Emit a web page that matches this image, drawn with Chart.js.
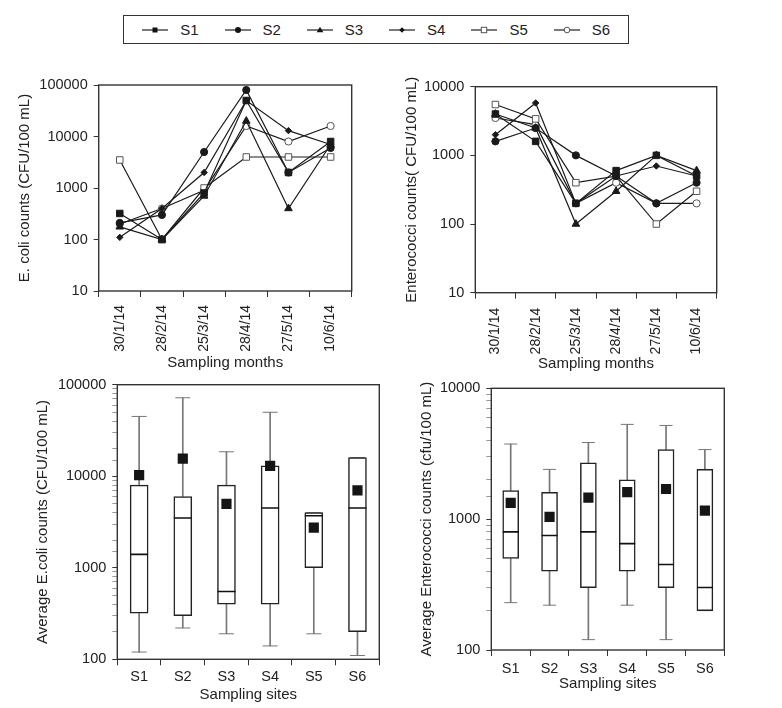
<!DOCTYPE html>
<html><head><meta charset="utf-8">
<script src="https://cdn.jsdelivr.net/npm/chart.js@4"></script>
<style>
body{margin:0;background:#fff;width:782px;height:708px;position:relative;overflow:hidden;font-family:"Liberation Sans",Arial,sans-serif;}
canvas{position:absolute;}
#legend{position:absolute;left:123px;top:15px;width:506px;height:29px;border:1.5px solid #333;box-sizing:border-box;}
.li{position:absolute;top:0;height:100%;display:flex;align-items:center;font-size:15px;color:#222;}
.li svg{margin-right:12px;}
</style></head><body>
<div id="legend"></div>
<canvas id="c1" width="390" height="320" style="left:0;top:60px"></canvas>
<canvas id="c2" width="392" height="320" style="left:390px;top:60px"></canvas>
<canvas id="c3" width="390" height="338" style="left:0;top:370px"></canvas>
<canvas id="c4" width="392" height="338" style="left:390px;top:370px"></canvas>
<script>
// ---------- data ----------
const months = ['30/1/14','28/2/14','25/3/14','28/4/14','27/5/14','10/6/14'];
const sites = ['S1','S2','S3','S4','S5','S6'];

// E. coli counts per site per month
const ecoliS1 = [320, 100, 800, 50000, 2000, 8000];
const ecoliS2 = [210, 300, 5000, 80000, 2000, 6000];
const ecoliS3 = [176, 100, 700, 20000, 400, 7000];
const ecoliS4 = [110, 400, 2000, 50000, 13000, 7000];
const ecoliS5 = [3500, 100, 1000, 4000, 4000, 4000];
const ecoliS6 = [200, 400, 900, 16000, 8000, 16000];

// Enterococci counts per site per month
const enteroS1 = [4000, 1600, 200, 600, 1000, 500];
const enteroS2 = [1600, 2500, 1000, 500, 200, 400];
const enteroS3 = [4000, 2500, 100, 300, 1000, 600];
const enteroS4 = [2000, 5800, 200, 500, 700, 500];
const enteroS5 = [5500, 3400, 400, 500, 100, 300];
const enteroS6 = [3500, 2800, 200, 400, 200, 200];

// Box plot summaries, E. coli
const ecoliMin    = [120, 220, 190, 140, 190, 110];
const ecoliQ1     = [320, 300, 400, 400, 1000, 200];
const ecoliMedian = [1400, 3500, 550, 4500, 3700, 4500];
const ecoliQ3     = [8000, 6000, 8000, 13000, 4000, 16000];
const ecoliMax    = [45000, 72000, 18500, 50000, 4000, 16000];
const ecoliMean   = [10300, 15600, 5000, 13000, 2750, 7000];

// Box plot summaries, Enterococci
const enteroMin    = [230, 220, 120, 220, 120, 200];
const enteroQ1     = [500, 400, 300, 400, 300, 200];
const enteroMedian = [800, 750, 800, 650, 450, 300];
const enteroQ3     = [1650, 1600, 2700, 2000, 3400, 2400];
const enteroMax    = [3750, 2400, 3850, 5300, 5200, 3400];
const enteroMean   = [1330, 1040, 1460, 1610, 1700, 1160];

const ecoliTicks = [10, 100, 1000, 10000, 100000];
const enteroTicks = [10, 100, 1000, 10000];

// ---------- styling ----------
Chart.defaults.font.family = '"Liberation Sans", Arial, sans-serif';
Chart.defaults.color = '#222';
const INK = '#1a1a1a';
const markerStyles = {
  S1:{pointStyle:'rect', pointRadius:4.6, pointBackgroundColor:INK, pointBorderColor:INK},
  S2:{pointStyle:'circle', pointRadius:3.6, pointBackgroundColor:INK, pointBorderColor:INK},
  S3:{pointStyle:'triangle', pointRadius:4.4, pointBackgroundColor:INK, pointBorderColor:INK},
  S4:{pointStyle:'rectRot', pointRadius:3.2, pointBackgroundColor:INK, pointBorderColor:INK},
  S5:{pointStyle:'rect', pointRadius:4.6, pointBackgroundColor:'#fff', pointBorderColor:'#555'},
  S6:{pointStyle:'circle', pointRadius:3.6, pointBackgroundColor:'#fff', pointBorderColor:'#555'}
};

// legend (HTML, real text)
const legendIcons = {
  S1:'<rect x="10.5" y="2.5" width="5" height="5" fill="#111"/>',
  S2:'<circle cx="13" cy="5" r="3" fill="#111"/>',
  S3:'<polygon points="13,1.8 16.3,7.2 9.7,7.2" fill="#111"/>',
  S4:'<polygon points="13,2.3 15.7,5 13,7.7 10.3,5" fill="#111"/>',
  S5:'<rect x="10.3" y="2.3" width="5.4" height="5.4" fill="#fff" stroke="#555" stroke-width="1"/>',
  S6:'<circle cx="13" cy="5" r="2.8" fill="#fff" stroke="#555" stroke-width="1"/>'
};
const legendEl = document.getElementById('legend');
sites.forEach((s,i)=>{
  const d = document.createElement('div');
  d.className = 'li';
  d.style.left = (18.2 + 82.3*i) + 'px';
  d.innerHTML = '<svg width="26" height="10"><line x1="0" y1="5" x2="26" y2="5" stroke="#222" stroke-width="1.2"/>' + legendIcons[s] + '</svg><span>' + s + '</span>';
  legendEl.appendChild(d);
});

const isPow10 = v => v > 0 && Math.abs(Math.log10(v) - Math.round(Math.log10(v))) < 1e-9;

const framePlugin = {
  id:'frame',
  afterDraw(chart){
    const {ctx, chartArea:a} = chart;
    ctx.save();
    ctx.strokeStyle = '#333';
    ctx.lineWidth = 1.4;
    ctx.strokeRect(a.left, a.top, a.right - a.left, a.bottom - a.top);
    ctx.restore();
  }
};

function yScale(g, min, max, title, tickList, showMinor){
  return {
    type:'logarithmic', min, max,
    afterFit(s){ s.width = g.yW; },
    afterBuildTicks(s){
      if (!showMinor) s.ticks = tickList.map(v => ({value:v}));
    },
    ticks:{ autoSkip:false, padding:6, font:{size:14.5}, color:'#222',
      callback:(v)=> isPow10(v) ? String(Math.round(v)) : '' },
    grid:{ drawOnChartArea:false, drawTicks:true, tickLength:5, tickWidth:1,
      tickColor:(c)=> (c.tick && isPow10(c.tick.value)) ? '#333' : '#999' },
    border:{display:false},
    title:{display:true, text:title, font:{size:15}, color:'#222', padding:{top:g.yTitlePad, bottom:0}}
  };
}
function xScale(g, labels, title, rotated){
  return {
    type:'category', labels, offset:true,
    afterFit(s){ s.height = g.xH; },
    ticks:{ autoSkip:false, padding:g.xTickPad, font:{size: rotated ? 14 : 14.5}, color:'#222',
      maxRotation: rotated ? 90 : 0, minRotation: rotated ? 90 : 0 },
    grid:{ offset:true, drawOnChartArea:false, drawTicks:true, tickLength:6, tickColor:'#333', tickWidth:1 },
    border:{display:false},
    title:{display:true, text:title, font:{size:15}, color:'#222', padding:{top:0, bottom:g.xTitlePad}}
  };
}

function lineChart(id, g, seriesList, min, max, tickList, yTitle){
  const datasets = sites.map((s,i)=>Object.assign({
    label:s, data:seriesList[i], borderColor:INK, borderWidth:1.2, pointBorderWidth:1,
    fill:false, tension:0
  }, markerStyles[s]));
  return new Chart(document.getElementById(id), {
    type:'line',
    data:{labels:months, datasets},
    options:{
      responsive:false, animation:false, events:[],
      layout:{padding:g.pad},
      plugins:{legend:{display:false}, tooltip:{enabled:false}},
      scales:{ x:xScale(g, months, 'Sampling months', true), y:yScale(g, min, max, yTitle, tickList, false) }
    },
    plugins:[framePlugin]
  });
}

function boxChart(id, g, s, min, max, tickList, yTitle){
  const datasets = [
    {type:'line', label:'mean', data:s.mean, showLine:false, pointStyle:'rect', pointRadius:g.meanR,
      pointBackgroundColor:'#151515', pointBorderColor:'#151515', pointBorderWidth:0, order:0},
    {type:'line', label:'median', data:s.median, showLine:false, pointStyle:'line', pointRadius:g.boxW/2,
      pointBorderColor:'#111', pointBorderWidth:1.6, order:1},
    {type:'bar', label:'box', data:s.q1.map((v,i)=>[v, s.q3[i]]), backgroundColor:'#fff',
      borderColor:'#222', borderWidth:1.5, borderSkipped:false, barThickness:g.boxW, grouped:false, order:2},
    {type:'line', label:'capHi', data:s.max, showLine:false, pointStyle:'line', pointRadius:g.capR,
      pointBorderColor:'#777', pointBorderWidth:1, order:3},
    {type:'line', label:'capLo', data:s.min, showLine:false, pointStyle:'line', pointRadius:g.capR,
      pointBorderColor:'#777', pointBorderWidth:1, order:3},
    {type:'bar', label:'whiskHi', data:s.q3.map((v,i)=>[v, s.max[i]]), backgroundColor:'#777',
      borderWidth:0, barThickness:1, grouped:false, order:4},
    {type:'bar', label:'whiskLo', data:s.min.map((v,i)=>[v, s.q1[i]]), backgroundColor:'#777',
      borderWidth:0, barThickness:1, grouped:false, order:4}
  ];
  return new Chart(document.getElementById(id), {
    type:'bar',
    data:{labels:sites, datasets},
    options:{
      responsive:false, animation:false, events:[],
      layout:{padding:g.pad},
      plugins:{legend:{display:false}, tooltip:{enabled:false}},
      scales:{ x:xScale(g, sites, 'Sampling sites', false), y:yScale(g, min, max, yTitle, tickList, true) }
    },
    plugins:[framePlugin]
  });
}

lineChart('c1',
  {pad:{left:0, top:25, right:38.3, bottom:0}, yW:98.7, xH:89, yTitlePad:16, xTitlePad:8.3, xTickPad:8},
  [ecoliS1, ecoliS2, ecoliS3, ecoliS4, ecoliS5, ecoliS6], 10, 100000, ecoliTicks, 'E. coli counts (CFU/100 mL)');

lineChart('c2',
  {pad:{left:0, top:26.7, right:65.3, bottom:0}, yW:85.3, xH:87.3, yTitlePad:12.7, xTitlePad:7, xTickPad:9},
  [enteroS1, enteroS2, enteroS3, enteroS4, enteroS5, enteroS6], 10, 10000, enteroTicks, 'Enterococci counts( CFU/100 mL)');

boxChart('c3',
  {pad:{left:0, top:12.7, right:10.7, bottom:0}, yW:117.3, xH:48.7, yTitlePad:34.3, xTitlePad:4.5, xTickPad:3, boxW:18, capR:7.5, meanR:7.2},
  {min:ecoliMin, q1:ecoliQ1, median:ecoliMedian, q3:ecoliQ3, max:ecoliMax, mean:ecoliMean},
  100, 100000, null, 'Average E.coli counts (CFU/100 mL)');

boxChart('c4',
  {pad:{left:0, top:18.3, right:57.7, bottom:0}, yW:101.3, xH:58, yTitlePad:27.7, xTitlePad:15, xTickPad:4, boxW:16, capR:6.5, meanR:7.2},
  {min:enteroMin, q1:enteroQ1, median:enteroMedian, q3:enteroQ3, max:enteroMax, mean:enteroMean},
  100, 10000, null, 'Average Enterococci counts (cfu/100 mL)');
</script>
</body></html>
